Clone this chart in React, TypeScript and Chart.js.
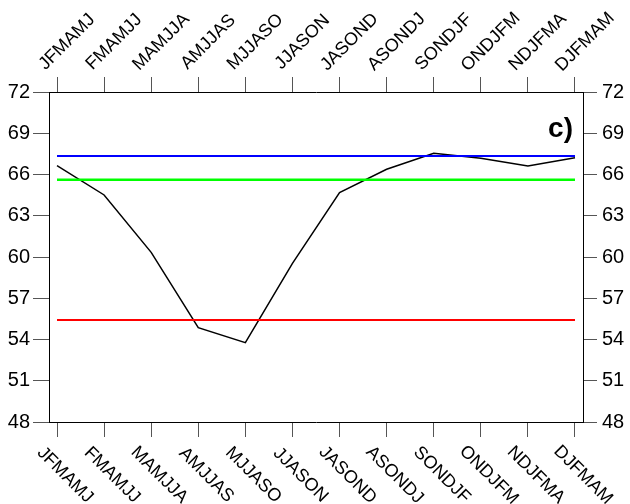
import React, { useEffect, useRef } from "react";
import { Chart, registerables } from "chart.js";

Chart.register(...registerables);

const SEASONS = ["JFMAMJ", "FMAMJJ", "MAMJJA", "AMJJAS", "MJJASO", "JJASON", "JASOND", "ASONDJ", "SONDJF", "ONDJFM", "NDJFMA", "DJFMAM"];
const SERIES_BLACK = [66.64, 64.51, 60.34, 54.86, 53.77, 59.54, 64.68, 66.38, 67.54, 67.18, 66.62, 67.22];
const LEVEL_BLUE = 67.35;
const LEVEL_GREEN = 65.62;
const LEVEL_RED = 55.42;
const Y_MIN = 48;
const Y_MAX = 72;
const Y_STEP = 3;
const PANEL_LABEL = "c)";

const FONT = "'Liberation Sans', Arial, Helvetica, sans-serif";

export default function App() {
  const ref = useRef<HTMLCanvasElement | null>(null);

  useEffect(() => {
    if (!ref.current) return;
    const last = SEASONS.length - 1;
    const flat = (v: number) => [
      { x: 0, y: v },
      { x: last, y: v },
    ];
    const setTicks = (s: any) => {
      s.ticks = SEASONS.map((_, i) => ({ value: i }));
    };

    const labelPlugin = {
      id: "seasonLabels",
      afterDraw(chart: any) {
        const { ctx, chartArea } = chart;
        const xs = chart.scales.x;
        ctx.save();
        ctx.fillStyle = "#000";
        ctx.font = `18px ${FONT}`;
        ctx.textAlign = "center";
        ctx.textBaseline = "middle";
        SEASONS.forEach((lab, i) => {
          const px = xs.getPixelForValue(i);
          ctx.save();
          ctx.translate(px + 8, chartArea.bottom + 53);
          ctx.rotate(Math.PI / 4);
          ctx.fillText(lab, 0, 0);
          ctx.restore();
          ctx.save();
          ctx.translate(px + 10, chartArea.top - 50);
          ctx.rotate(-Math.PI / 4);
          ctx.fillText(lab, 0, 0);
          ctx.restore();
        });
        ctx.font = `bold 28px ${FONT}`;
        ctx.textAlign = "right";
        ctx.textBaseline = "alphabetic";
        ctx.fillText(PANEL_LABEL, chartArea.right - 10, chartArea.top + 45);
        ctx.restore();
      },
    };

    const xCommon = (pos: "top" | "bottom", h: number) => ({
      type: "linear" as const,
      position: pos,
      min: -0.17,
      max: last + 0.17,
      afterBuildTicks: setTicks,
      afterFit: (s: any) => {
        s.height = h;
      },
      ticks: { display: false },
      grid: { drawOnChartArea: false, drawTicks: true, tickLength: 15, color: "#555", lineWidth: 1 },
      border: { display: true, color: "#000", width: 1 },
    });

    const yCommon = (pos: "left" | "right", w: number, tl: number, pad: number) => ({
      type: "linear" as const,
      position: pos,
      min: Y_MIN,
      max: Y_MAX,
      afterFit: (s: any) => {
        s.width = w;
      },
      ticks: { stepSize: Y_STEP, color: "#000", font: { family: FONT, size: 20 }, padding: pad },
      grid: { drawOnChartArea: false, drawTicks: true, tickLength: tl, color: "#555", lineWidth: 1 },
      border: { display: true, color: "#000", width: 1 },
    });

    const chart = new Chart(ref.current, {
      type: "line",
      data: {
        datasets: [
          { data: flat(LEVEL_BLUE), borderColor: "#0000ff", borderWidth: 2, pointRadius: 0, yAxisID: "y", xAxisID: "x" },
          { data: flat(LEVEL_GREEN), borderColor: "#00ff00", borderWidth: 2.5, pointRadius: 0, yAxisID: "y", xAxisID: "x" },
          { data: flat(LEVEL_RED), borderColor: "#ff0000", borderWidth: 2, pointRadius: 0, yAxisID: "y", xAxisID: "x" },
          {
            data: SERIES_BLACK.map((v, i) => ({ x: i, y: v })),
            borderColor: "#000",
            borderWidth: 1.5,
            pointRadius: 0,
            tension: 0,
            yAxisID: "y",
            xAxisID: "x",
          },
        ],
      },
      options: {
        responsive: false,
        animation: false,
        layout: { padding: 0 },
        plugins: { legend: { display: false }, tooltip: { enabled: false } },
        scales: {
          x: xCommon("bottom", 82),
          x2: xCommon("top", 92),
          y: yCommon("left", 49, 16, 3),
          y2: yCommon("right", 47, 14, 5),
        } as any,
      },
      plugins: [labelPlugin],
    });
    return () => chart.destroy();
  }, []);

  return (
    <div style={{ position: "fixed", left: 0, top: 0, width: 630, height: 504, background: "#fff" }}>
      <canvas ref={ref} width={630} height={504} style={{ width: 630, height: 504 }} />
    </div>
  );
}
